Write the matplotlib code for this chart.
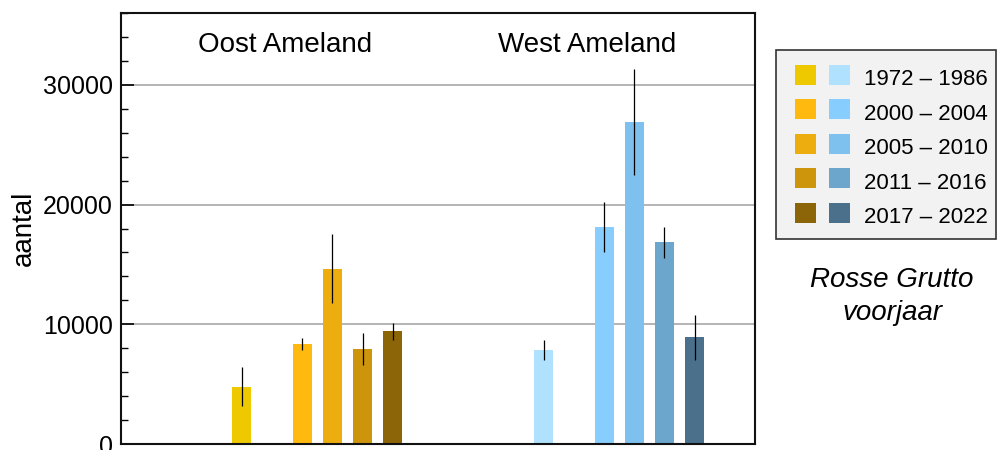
import matplotlib
matplotlib.use("Agg")
import matplotlib.pyplot as plt
from matplotlib.patches import Rectangle
from matplotlib.ticker import MultipleLocator

plt.rcParams['font.family'] = ['Liberation Sans', 'DejaVu Sans']

periods = ["1972 – 1986", "2000 – 2004", "2005 – 2010", "2011 – 2016", "2017 – 2022"]
groups = ["Oost Ameland", "West Ameland"]

oost_pos = [4, 6, 7, 8, 9]
oost_vals = [4800, 8350, 14650, 7950, 9400]
oost_err = [1650, 490, 2900, 1330, 710]

west_pos = [14, 16, 17, 18, 19]
west_vals = [7850, 18150, 26900, 16850, 8900]
west_err = [830, 2100, 4450, 1280, 1870]

oost_colors = ["#EEC900", "#FFB90F", "#EEAD0E", "#CD950C", "#8B6508"]
west_colors = ["#B0E2FF", "#87CEFF", "#7EC0EE", "#6CA6CD", "#4A708B"]

W, H = 997, 450
fig = plt.figure(figsize=(W / 100, H / 100), dpi=100)
ax = fig.add_axes([121 / W, 1 - 444 / H, (755 - 121) / W, (444 - 13) / H])

ekw = dict(elinewidth=0.9, ecolor='black', capsize=0)
ax.bar(oost_pos, oost_vals, width=0.63, color=oost_colors, yerr=oost_err, error_kw=ekw, zorder=2)
ax.bar(west_pos, west_vals, width=0.63, color=west_colors, yerr=west_err, error_kw=ekw, zorder=2)

ax.set_xlim(0, 21)
ax.set_ylim(0, 36000)
ax.set_xticks([])
ax.yaxis.set_major_locator(MultipleLocator(10000))
ax.yaxis.set_minor_locator(MultipleLocator(2000))
ax.tick_params(axis='y', which='major', direction='in', length=9.5, width=1.2, labelsize=18, pad=6)
ax.tick_params(axis='y', which='minor', direction='in', length=5, width=1.0)
ax.grid(axis='y', which='major', color='#A0A0A0', linewidth=1.1)
ax.set_axisbelow(True)
for s in ax.spines.values():
    s.set_linewidth(1.5)
    s.set_color('#111111')

ax.set_ylabel("aantal", fontsize=20, labelpad=4)

ax.text(5.44, 32750, groups[0], fontsize=20, ha='center', va='baseline')
ax.text(15.44, 32750, groups[1], fontsize=20, ha='center', va='baseline')

# legend box (figure pixel coordinates)
def fx(x):
    return x / W

def fy(y):
    return 1 - y / H

fig.add_artist(Rectangle((fx(776), fy(239)), fx(996) - fx(776), fy(50) - fy(239),
                         transform=fig.transFigure, facecolor='#F2F2F2',
                         edgecolor='#333333', linewidth=1.2))
for i, (lab, c1, c2) in enumerate(zip(periods, oost_colors, west_colors)):
    base = 85 + i * 34.6
    fig.add_artist(Rectangle((fx(795), fy(base - 0.5)), fx(21), fy(0) - fy(20),
                             transform=fig.transFigure, facecolor=c1, edgecolor='none'))
    fig.add_artist(Rectangle((fx(829), fy(base - 0.5)), fx(21), fy(0) - fy(20),
                             transform=fig.transFigure, facecolor=c2, edgecolor='none'))
    fig.text(fx(864), fy(base), lab, fontsize=16, ha='left', va='baseline')

fig.text(fx(892), fy(287), "Rosse Grutto", fontsize=20, style='italic', ha='center', va='baseline')
fig.text(fx(892), fy(320), "voorjaar", fontsize=20, style='italic', ha='center', va='baseline')

fig.savefig("out.png", dpi=100)
